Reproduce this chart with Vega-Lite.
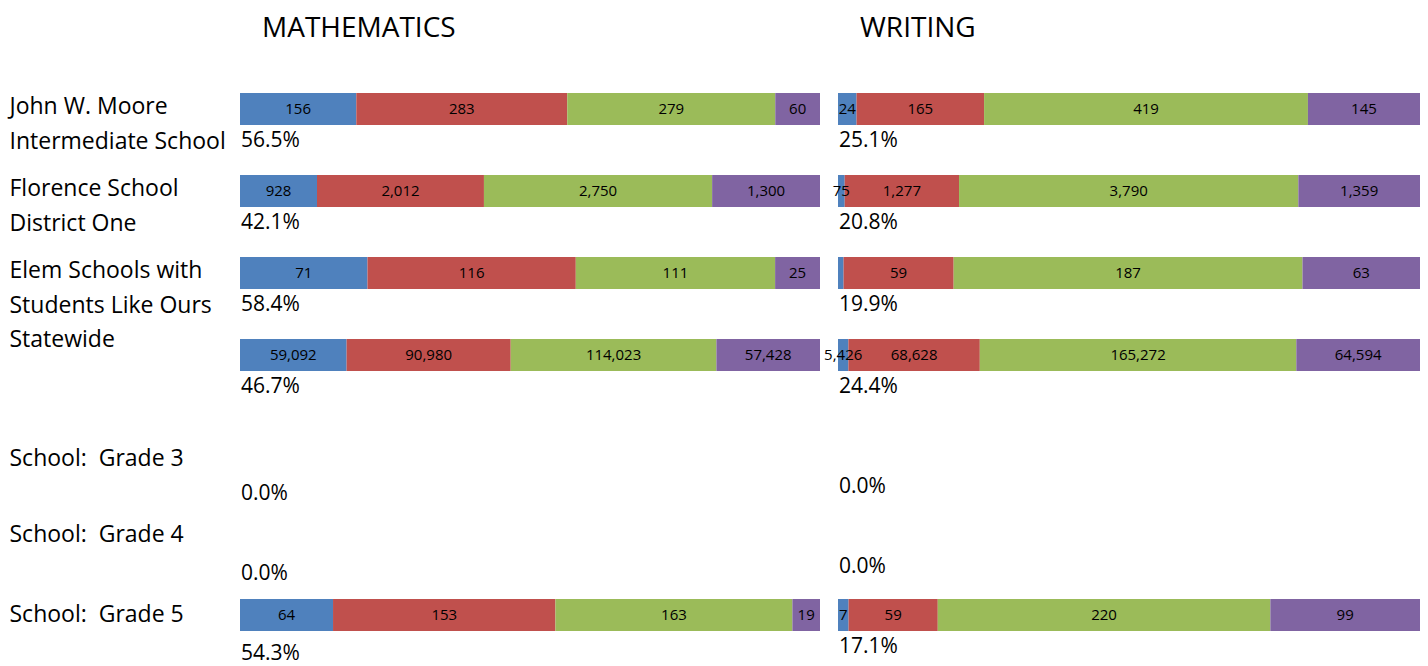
{
  "$schema": "https://vega.github.io/schema/vega-lite/v6.json",
  "padding": {"left": 9, "top": 15, "right": 0, "bottom": 3},
  "background": "white",
  "config": {
    "view": {"stroke": null},
    "font": "Open Sans",
    "text": {"font": "Open Sans", "color": "black"}
  },
  "datasets": {
    "counts": [
      {"subject": "Mathematics", "group": "John W. Moore Intermediate School", "level": "Not Met 1", "order": 1, "n": 156},
      {"subject": "Mathematics", "group": "John W. Moore Intermediate School", "level": "Not Met 2", "order": 2, "n": 283},
      {"subject": "Mathematics", "group": "John W. Moore Intermediate School", "level": "Met", "order": 3, "n": 279},
      {"subject": "Mathematics", "group": "John W. Moore Intermediate School", "level": "Exemplary", "order": 4, "n": 60},
      {"subject": "Mathematics", "group": "Florence School District One", "level": "Not Met 1", "order": 1, "n": 928},
      {"subject": "Mathematics", "group": "Florence School District One", "level": "Not Met 2", "order": 2, "n": 2012},
      {"subject": "Mathematics", "group": "Florence School District One", "level": "Met", "order": 3, "n": 2750},
      {"subject": "Mathematics", "group": "Florence School District One", "level": "Exemplary", "order": 4, "n": 1300},
      {"subject": "Mathematics", "group": "Elem Schools with Students Like Ours", "level": "Not Met 1", "order": 1, "n": 71},
      {"subject": "Mathematics", "group": "Elem Schools with Students Like Ours", "level": "Not Met 2", "order": 2, "n": 116},
      {"subject": "Mathematics", "group": "Elem Schools with Students Like Ours", "level": "Met", "order": 3, "n": 111},
      {"subject": "Mathematics", "group": "Elem Schools with Students Like Ours", "level": "Exemplary", "order": 4, "n": 25},
      {"subject": "Mathematics", "group": "Statewide", "level": "Not Met 1", "order": 1, "n": 59092},
      {"subject": "Mathematics", "group": "Statewide", "level": "Not Met 2", "order": 2, "n": 90980},
      {"subject": "Mathematics", "group": "Statewide", "level": "Met", "order": 3, "n": 114023},
      {"subject": "Mathematics", "group": "Statewide", "level": "Exemplary", "order": 4, "n": 57428},
      {"subject": "Mathematics", "group": "School:\u00a0 Grade 5", "level": "Not Met 1", "order": 1, "n": 64},
      {"subject": "Mathematics", "group": "School:\u00a0 Grade 5", "level": "Not Met 2", "order": 2, "n": 153},
      {"subject": "Mathematics", "group": "School:\u00a0 Grade 5", "level": "Met", "order": 3, "n": 163},
      {"subject": "Mathematics", "group": "School:\u00a0 Grade 5", "level": "Exemplary", "order": 4, "n": 19},
      {"subject": "Writing", "group": "John W. Moore Intermediate School", "level": "Not Met 1", "order": 1, "n": 24},
      {"subject": "Writing", "group": "John W. Moore Intermediate School", "level": "Not Met 2", "order": 2, "n": 165},
      {"subject": "Writing", "group": "John W. Moore Intermediate School", "level": "Met", "order": 3, "n": 419},
      {"subject": "Writing", "group": "John W. Moore Intermediate School", "level": "Exemplary", "order": 4, "n": 145},
      {"subject": "Writing", "group": "Florence School District One", "level": "Not Met 1", "order": 1, "n": 75},
      {"subject": "Writing", "group": "Florence School District One", "level": "Not Met 2", "order": 2, "n": 1277},
      {"subject": "Writing", "group": "Florence School District One", "level": "Met", "order": 3, "n": 3790},
      {"subject": "Writing", "group": "Florence School District One", "level": "Exemplary", "order": 4, "n": 1359},
      {"subject": "Writing", "group": "Elem Schools with Students Like Ours", "level": "Not Met 1", "order": 1, "n": 3},
      {"subject": "Writing", "group": "Elem Schools with Students Like Ours", "level": "Not Met 2", "order": 2, "n": 59},
      {"subject": "Writing", "group": "Elem Schools with Students Like Ours", "level": "Met", "order": 3, "n": 187},
      {"subject": "Writing", "group": "Elem Schools with Students Like Ours", "level": "Exemplary", "order": 4, "n": 63},
      {"subject": "Writing", "group": "Statewide", "level": "Not Met 1", "order": 1, "n": 5426},
      {"subject": "Writing", "group": "Statewide", "level": "Not Met 2", "order": 2, "n": 68628},
      {"subject": "Writing", "group": "Statewide", "level": "Met", "order": 3, "n": 165272},
      {"subject": "Writing", "group": "Statewide", "level": "Exemplary", "order": 4, "n": 64594},
      {"subject": "Writing", "group": "School:\u00a0 Grade 5", "level": "Not Met 1", "order": 1, "n": 7},
      {"subject": "Writing", "group": "School:\u00a0 Grade 5", "level": "Not Met 2", "order": 2, "n": 59},
      {"subject": "Writing", "group": "School:\u00a0 Grade 5", "level": "Met", "order": 3, "n": 220},
      {"subject": "Writing", "group": "School:\u00a0 Grade 5", "level": "Exemplary", "order": 4, "n": 99}
    ],
    "pct": [
      {"subject": "Mathematics", "group": "John W. Moore Intermediate School", "pct": 0.565},
      {"subject": "Mathematics", "group": "Florence School District One", "pct": 0.421},
      {"subject": "Mathematics", "group": "Elem Schools with Students Like Ours", "pct": 0.584},
      {"subject": "Mathematics", "group": "Statewide", "pct": 0.467},
      {"subject": "Mathematics", "group": "School:\u00a0 Grade 3", "pct": 0.0},
      {"subject": "Mathematics", "group": "School:\u00a0 Grade 4", "pct": 0.0},
      {"subject": "Mathematics", "group": "School:\u00a0 Grade 5", "pct": 0.543},
      {"subject": "Writing", "group": "John W. Moore Intermediate School", "pct": 0.251},
      {"subject": "Writing", "group": "Florence School District One", "pct": 0.208},
      {"subject": "Writing", "group": "Elem Schools with Students Like Ours", "pct": 0.199},
      {"subject": "Writing", "group": "Statewide", "pct": 0.244},
      {"subject": "Writing", "group": "School:\u00a0 Grade 3", "pct": 0.0},
      {"subject": "Writing", "group": "School:\u00a0 Grade 4", "pct": 0.0},
      {"subject": "Writing", "group": "School:\u00a0 Grade 5", "pct": 0.171}
    ]
  },
  "bounds": "flush",
  "columns": 2,
  "spacing": {"row": 19, "column": 18},
  "concat": [
    {
      "width": 580,
      "height": 328,
      "title": {"text": "MATHEMATICS", "anchor": "start", "frame": "group", "dx": 22, "offset": 25, "fontSize": 28, "font": "Open Sans", "fontWeight": "normal", "color": "black"},
      "layer": [
        {
          "data": {"name": "counts"},
          "transform": [
            {"filter": "datum.subject == 'Mathematics'"},
            {"filter": {"field": "group", "oneOf": ["John W. Moore Intermediate School", "Florence School District One", "Elem Schools with Students Like Ours", "Statewide"]}},
            {"stack": "n", "groupby": ["subject", "group"], "sort": [{"field": "order"}], "offset": "normalize", "as": ["s0", "s1"]}
          ],
          "mark": {"type": "bar"},
          "encoding": {
            "y": {"field": "group", "type": "nominal", "scale": {"domain": ["John W. Moore Intermediate School", "Florence School District One", "Elem Schools with Students Like Ours", "Statewide"], "paddingInner": 0.61, "paddingOuter": 0.305},
              "axis": {"title": null, "domain": false, "ticks": false, "tickSize": 0, "labelAlign": "left", "labelPadding": 231, "labelLimit": 400, "labelFont": "Open Sans", "labelFontSize": 23, "labelColor": "black", "labelLineHeight": 35, "labelBaseline": "middle",
                "labelOffset": {"condition": {"test": "datum.value == 'Statewide'", "value": -15}, "value": -2},
                "labelExpr": "datum.label == 'John W. Moore Intermediate School' ? ['John W. Moore', 'Intermediate School'] : datum.label == 'Florence School District One' ? ['Florence School', 'District One'] : datum.label == 'Elem Schools with Students Like Ours' ? ['Elem Schools with', 'Students Like Ours'] : datum.label"}},
            "x": {"field": "s0", "type": "quantitative", "scale": {"domain": [0, 1], "nice": false, "zero": true}, "axis": null},
            "x2": {"field": "s1"},
            "color": {"field": "level", "type": "nominal", "scale": {"domain": ["Not Met 1", "Not Met 2", "Met", "Exemplary"], "range": ["#4F81BD", "#C0504D", "#9BBB59", "#8064A2"]}, "legend": null}
          }
        },
        {
          "data": {"name": "counts"},
          "transform": [
            {"filter": "datum.subject == 'Mathematics'"},
            {"filter": {"field": "group", "oneOf": ["John W. Moore Intermediate School", "Florence School District One", "Elem Schools with Students Like Ours", "Statewide"]}},
            {"stack": "n", "groupby": ["subject", "group"], "sort": [{"field": "order"}], "offset": "normalize", "as": ["s0", "s1"]},
            {"fold": ["s0", "s1"], "as": ["edge", "sv"]}
          ],
          "mark": {"type": "text", "fontSize": 15, "align": "center", "baseline": "middle"},
          "encoding": {
            "y": {"field": "group", "type": "nominal"},
            "x": {"aggregate": "mean", "field": "sv", "type": "quantitative"},
            "detail": {"field": "level"},
            "text": {"field": "n", "type": "quantitative", "format": ",d"}
          }
        },
        {
          "data": {"name": "pct"},
          "transform": [
            {"filter": "datum.subject == 'Mathematics'"},
            {"filter": {"field": "group", "oneOf": ["John W. Moore Intermediate School", "Florence School District One", "Elem Schools with Students Like Ours", "Statewide"]}}
          ],
          "mark": {"type": "text", "fontSize": 21, "align": "left", "baseline": "middle", "dx": 1, "dy": 32},
          "encoding": {
            "y": {"field": "group", "type": "nominal"},
            "x": {"datum": 0, "type": "quantitative"},
            "text": {"field": "pct", "type": "quantitative", "format": ".1%"}
          }
        }
      ]
    },
    {
      "width": 582,
      "height": 328,
      "title": {"text": "WRITING", "anchor": "start", "frame": "group", "dx": 22, "offset": 25, "fontSize": 28, "font": "Open Sans", "fontWeight": "normal", "color": "black"},
      "layer": [
        {
          "data": {"name": "counts"},
          "transform": [
            {"filter": "datum.subject == 'Writing'"},
            {"filter": {"field": "group", "oneOf": ["John W. Moore Intermediate School", "Florence School District One", "Elem Schools with Students Like Ours", "Statewide"]}},
            {"stack": "n", "groupby": ["subject", "group"], "sort": [{"field": "order"}], "offset": "normalize", "as": ["s0", "s1"]}
          ],
          "mark": {"type": "bar"},
          "encoding": {
            "y": {"field": "group", "type": "nominal", "scale": {"domain": ["John W. Moore Intermediate School", "Florence School District One", "Elem Schools with Students Like Ours", "Statewide"], "paddingInner": 0.61, "paddingOuter": 0.305}, "axis": null},
            "x": {"field": "s0", "type": "quantitative", "scale": {"domain": [0, 1], "nice": false, "zero": true}, "axis": null},
            "x2": {"field": "s1"},
            "color": {"field": "level", "type": "nominal", "scale": {"domain": ["Not Met 1", "Not Met 2", "Met", "Exemplary"], "range": ["#4F81BD", "#C0504D", "#9BBB59", "#8064A2"]}, "legend": null}
          }
        },
        {
          "data": {"name": "counts"},
          "transform": [
            {"filter": "datum.subject == 'Writing'"},
            {"filter": {"field": "group", "oneOf": ["John W. Moore Intermediate School", "Florence School District One", "Elem Schools with Students Like Ours", "Statewide"]}},
            {"stack": "n", "groupby": ["subject", "group"], "sort": [{"field": "order"}], "offset": "normalize", "as": ["s0", "s1"]},
            {"filter": "datum.n > 3"},
            {"fold": ["s0", "s1"], "as": ["edge", "sv"]}
          ],
          "mark": {"type": "text", "fontSize": 15, "align": "center", "baseline": "middle"},
          "encoding": {
            "y": {"field": "group", "type": "nominal"},
            "x": {"aggregate": "mean", "field": "sv", "type": "quantitative"},
            "detail": {"field": "level"},
            "text": {"field": "n", "type": "quantitative", "format": ",d"}
          }
        },
        {
          "data": {"name": "pct"},
          "transform": [
            {"filter": "datum.subject == 'Writing'"},
            {"filter": {"field": "group", "oneOf": ["John W. Moore Intermediate School", "Florence School District One", "Elem Schools with Students Like Ours", "Statewide"]}}
          ],
          "mark": {"type": "text", "fontSize": 21, "align": "left", "baseline": "middle", "dx": 1, "dy": 32},
          "encoding": {
            "y": {"field": "group", "type": "nominal"},
            "x": {"datum": 0, "type": "quantitative"},
            "text": {"field": "pct", "type": "quantitative", "format": ".1%"}
          }
        }
      ]
    },
    {
      "width": 580,
      "height": 240,
      "layer": [
        {
          "data": {"name": "counts"},
          "transform": [
            {"filter": "datum.subject == 'Mathematics'"},
            {"filter": {"field": "group", "oneOf": ["School:\u00a0 Grade 3", "School:\u00a0 Grade 4", "School:\u00a0 Grade 5"]}},
            {"stack": "n", "groupby": ["subject", "group"], "sort": [{"field": "order"}], "offset": "normalize", "as": ["s0", "s1"]}
          ],
          "mark": {"type": "bar"},
          "encoding": {
            "y": {"field": "group", "type": "nominal", "scale": {"domain": ["School:\u00a0 Grade 3", "School:\u00a0 Grade 4", "School:\u00a0 Grade 5"], "paddingInner": 0.6, "paddingOuter": 0.3},
              "axis": {"title": null, "domain": false, "ticks": false, "tickSize": 0, "labelAlign": "left", "labelPadding": 231, "labelLimit": 400, "labelFont": "Open Sans", "labelFontSize": 23, "labelColor": "black", "labelBaseline": "middle",
                "labelOffset": {"condition": {"test": "datum.value == 'School:\u00a0 Grade 3'", "value": 4}, "value": 0}}},
            "x": {"field": "s0", "type": "quantitative", "scale": {"domain": [0, 1], "nice": false, "zero": true}, "axis": null},
            "x2": {"field": "s1"},
            "color": {"field": "level", "type": "nominal", "scale": {"domain": ["Not Met 1", "Not Met 2", "Met", "Exemplary"], "range": ["#4F81BD", "#C0504D", "#9BBB59", "#8064A2"]}, "legend": null}
          }
        },
        {
          "data": {"name": "counts"},
          "transform": [
            {"filter": "datum.subject == 'Mathematics'"},
            {"filter": {"field": "group", "oneOf": ["School:\u00a0 Grade 3", "School:\u00a0 Grade 4", "School:\u00a0 Grade 5"]}},
            {"stack": "n", "groupby": ["subject", "group"], "sort": [{"field": "order"}], "offset": "normalize", "as": ["s0", "s1"]},
            {"fold": ["s0", "s1"], "as": ["edge", "sv"]}
          ],
          "mark": {"type": "text", "fontSize": 15, "align": "center", "baseline": "middle"},
          "encoding": {
            "y": {"field": "group", "type": "nominal"},
            "x": {"aggregate": "mean", "field": "sv", "type": "quantitative"},
            "detail": {"field": "level"},
            "text": {"field": "n", "type": "quantitative", "format": ",d"}
          }
        },
        {
          "data": {"name": "pct"},
          "transform": [
            {"filter": "datum.subject == 'Mathematics'"},
            {"filter": {"field": "group", "oneOf": ["School:\u00a0 Grade 3", "School:\u00a0 Grade 4", "School:\u00a0 Grade 5"]}}
          ],
          "mark": {"type": "text", "fontSize": 21, "align": "left", "baseline": "middle", "dx": 1, "dy": 39},
          "encoding": {
            "y": {"field": "group", "type": "nominal"},
            "x": {"datum": 0, "type": "quantitative"},
            "text": {"field": "pct", "type": "quantitative", "format": ".1%"}
          }
        }
      ]
    },
    {
      "width": 582,
      "height": 240,
      "layer": [
        {
          "data": {"name": "counts"},
          "transform": [
            {"filter": "datum.subject == 'Writing'"},
            {"filter": {"field": "group", "oneOf": ["School:\u00a0 Grade 3", "School:\u00a0 Grade 4", "School:\u00a0 Grade 5"]}},
            {"stack": "n", "groupby": ["subject", "group"], "sort": [{"field": "order"}], "offset": "normalize", "as": ["s0", "s1"]}
          ],
          "mark": {"type": "bar"},
          "encoding": {
            "y": {"field": "group", "type": "nominal", "scale": {"domain": ["School:\u00a0 Grade 3", "School:\u00a0 Grade 4", "School:\u00a0 Grade 5"], "paddingInner": 0.6, "paddingOuter": 0.3}, "axis": null},
            "x": {"field": "s0", "type": "quantitative", "scale": {"domain": [0, 1], "nice": false, "zero": true}, "axis": null},
            "x2": {"field": "s1"},
            "color": {"field": "level", "type": "nominal", "scale": {"domain": ["Not Met 1", "Not Met 2", "Met", "Exemplary"], "range": ["#4F81BD", "#C0504D", "#9BBB59", "#8064A2"]}, "legend": null}
          }
        },
        {
          "data": {"name": "counts"},
          "transform": [
            {"filter": "datum.subject == 'Writing'"},
            {"filter": {"field": "group", "oneOf": ["School:\u00a0 Grade 3", "School:\u00a0 Grade 4", "School:\u00a0 Grade 5"]}},
            {"stack": "n", "groupby": ["subject", "group"], "sort": [{"field": "order"}], "offset": "normalize", "as": ["s0", "s1"]},
            {"fold": ["s0", "s1"], "as": ["edge", "sv"]}
          ],
          "mark": {"type": "text", "fontSize": 15, "align": "center", "baseline": "middle"},
          "encoding": {
            "y": {"field": "group", "type": "nominal"},
            "x": {"aggregate": "mean", "field": "sv", "type": "quantitative"},
            "detail": {"field": "level"},
            "text": {"field": "n", "type": "quantitative", "format": ",d"}
          }
        },
        {
          "data": {"name": "pct"},
          "transform": [
            {"filter": "datum.subject == 'Writing'"},
            {"filter": {"field": "group", "oneOf": ["School:\u00a0 Grade 3", "School:\u00a0 Grade 4", "School:\u00a0 Grade 5"]}}
          ],
          "mark": {"type": "text", "fontSize": 21, "align": "left", "baseline": "middle", "dx": 1, "dy": 32},
          "encoding": {
            "y": {"field": "group", "type": "nominal"},
            "x": {"datum": 0, "type": "quantitative"},
            "text": {"field": "pct", "type": "quantitative", "format": ".1%"}
          }
        }
      ]
    }
  ]
}
